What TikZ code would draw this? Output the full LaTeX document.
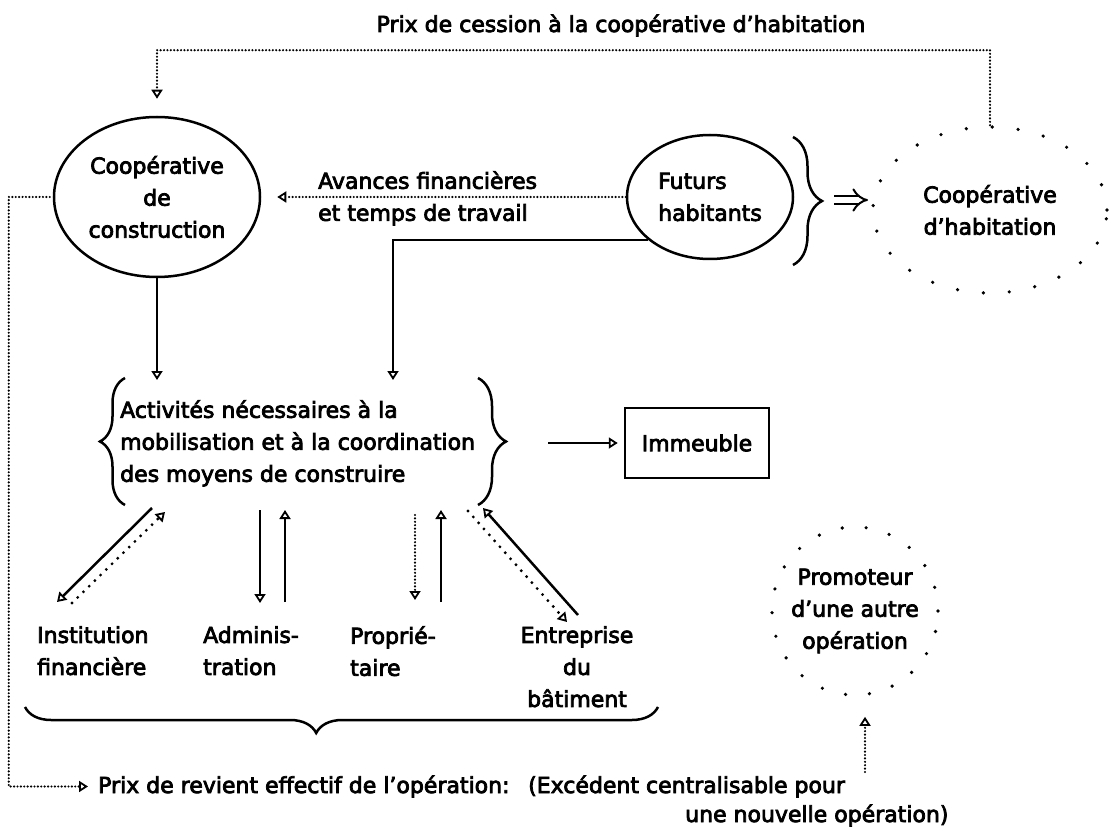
\documentclass[tikz,border=0pt]{standalone}
\usepackage{fontspec}
\setmainfont{DejaVu Sans}
\newfontfamily\heavy{DejaVu Sans}[FakeBold=3.5, Ligatures=TeX]
\usetikzlibrary{arrows.meta,shapes.geometric,decorations.pathreplacing,calc}

\begin{document}
\begin{tikzpicture}[x=1pt,y=-1pt,
  every node/.style={font=\heavy\fontsize{22}{32}\selectfont, inner sep=0pt},
  tip/.style={-{Triangle[open,length=9pt,width=11pt,line width=1.8pt]}},
  solidline/.style={line width=2.5pt},
  dots/.style={line width=2.4pt, line cap=round, dash pattern=on 0pt off 3.4pt},
  sparse/.style={line width=3.2pt, line cap=round, dash pattern=on 0pt off 8pt},
  roundbox/.style={ellipse, draw, line width=2.5pt, align=center},
  ghost/.style={ellipse, draw, line width=3.6pt, line cap=round, dash pattern=on 0pt off 26pt},
  bracket/.style={decorate, decoration={brace, amplitude=#1}, line width=2.5pt},
]
\useasboundingbox (0,0) rectangle (1112,837);

% ---- main actors of the operation
\node[roundbox, minimum width=206pt, minimum height=160pt] (coopc) at (157,197) {Coopérative\\de\\construction};
\node[roundbox, minimum width=166pt, minimum height=124pt, align=left] (futurs) at (710,197) {Futurs\\habitants};
\node[ghost, minimum width=234pt, minimum height=166pt] (coopH) at (990,210) {};
\node[align=center] (coopHtext) at (coopH) {Coopérative\\d'habitation};

\node[anchor=base] (cession) at (621,32) {Prix de cession à la coopérative d'habitation};
\node[anchor=north west, align=left] (avances) at (318,171) {Avances financières\\et temps de travail};

% ---- construction activities
\node[anchor=north west, align=left] (act) at (120,400) {Activités nécessaires à la\\mobilisation et à la coordination\\des moyens de construire};
\node[draw, line width=2.5pt, minimum width=144pt, minimum height=70pt] (imm) at (697,443) {Immeuble};

\node[ghost, minimum width=166pt, minimum height=168pt, dash pattern=on 0pt off 24pt] (promo) at (855,611) {};
\node[align=center] (promotext) at (promo) {Promoteur\\d'une autre\\opération};

% ---- partners
\node[anchor=north west, align=left] (inst) at (37,626) {Institution\\financière};
\node[anchor=north west, align=left] (adm) at (203,626) {Adminis-\\tration};
\node[anchor=north west, align=left] (prop) at (350,626) {Proprié-\\taire};
\node[anchor=north, align=center] (entr) at (577,626) {Entreprise\\du\\bâtiment};

% ---- cost line
\node[anchor=base west] (revient) at (98,793) {Prix de revient effectif de l'opération:};
\node[anchor=base west] (exc1) at (528,793) {(Excédent centralisable pour};
\node[anchor=base west] (exc2) at (685,822) {une nouvelle opération)};

% ---- connectors
\draw[dots, tip, shorten >=17pt] (coopH.north) -- ++(0,-75) -| (coopc.north);
\draw[dots, tip, shorten >=16pt] (futurs.west) -- (futurs.west -| coopc.east);

\coordinate (actIn1) at (157,380);
\coordinate (actIn2) at (393,380);
\draw[solidline, tip] (coopc.south) -- (actIn1);
\draw[solidline, tip] (futurs.215) -| (actIn2);

\coordinate (actOut) at (548,443);
\draw[solidline, tip, shorten >=6pt] (actOut) -- (imm.west);

\draw[dots, tip, shorten >=10pt] ([xshift=-3pt]coopc.west) -- ++(-41,0) |- (revient.west);

\coordinate (promIn) at (865,772);
\draw[dots, tip, shorten >=20pt] (promIn) -- (promIn |- promo.south);

% braces
\coordinate (bl1) at (125,505); \coordinate (bl2) at (125,378);
\coordinate (br1) at (478,378); \coordinate (br2) at (478,505);
\coordinate (bf1) at (793,137); \coordinate (bf2) at (793,265);
\coordinate (bb1) at (658,707); \coordinate (bb2) at (25,707);
\draw[bracket=25pt] (bl1) -- (bl2);
\draw[bracket=28pt] (br1) -- (br2);
\draw[bracket=29pt] (bf1) -- (bf2);
\draw[decorate, decoration={brace, amplitude=26pt, aspect=0.54}, line width=2.5pt] (bb1) -- (bb2);

% becomes
\coordinate (impA) at (834,200); \coordinate (impB) at (868,200);
\draw[line width=2pt, double distance=6pt, -{Implies}] (impA) -- (impB);

% exchanges with the partners
\coordinate (i1) at (152,508); \coordinate (i2) at (57,602);
\coordinate (i3) at (72,603);  \coordinate (i4) at (165,512);
\draw[solidline, tip] (i1) -- (i2);
\draw[sparse, tip] (i3) -- (i4);

\coordinate (a1) at (260,510); \coordinate (a2) at (260,603);
\coordinate (a3) at (285,602); \coordinate (a4) at (285,510);
\draw[solidline, tip] (a1) -- (a2);
\draw[solidline, tip] (a3) -- (a4);

\coordinate (p1) at (415,515); \coordinate (p2) at (415,600);
\coordinate (p3) at (441,602); \coordinate (p4) at (441,510);
\draw[dots, tip] (p1) -- (p2);
\draw[solidline, tip] (p3) -- (p4);

\coordinate (e1) at (468,511); \coordinate (e2) at (567,622);
\coordinate (e3) at (578,615); \coordinate (e4) at (483,508);
\draw[sparse, tip] (e1) -- (e2);
\draw[solidline, tip] (e3) -- (e4);
\end{tikzpicture}
\end{document}
